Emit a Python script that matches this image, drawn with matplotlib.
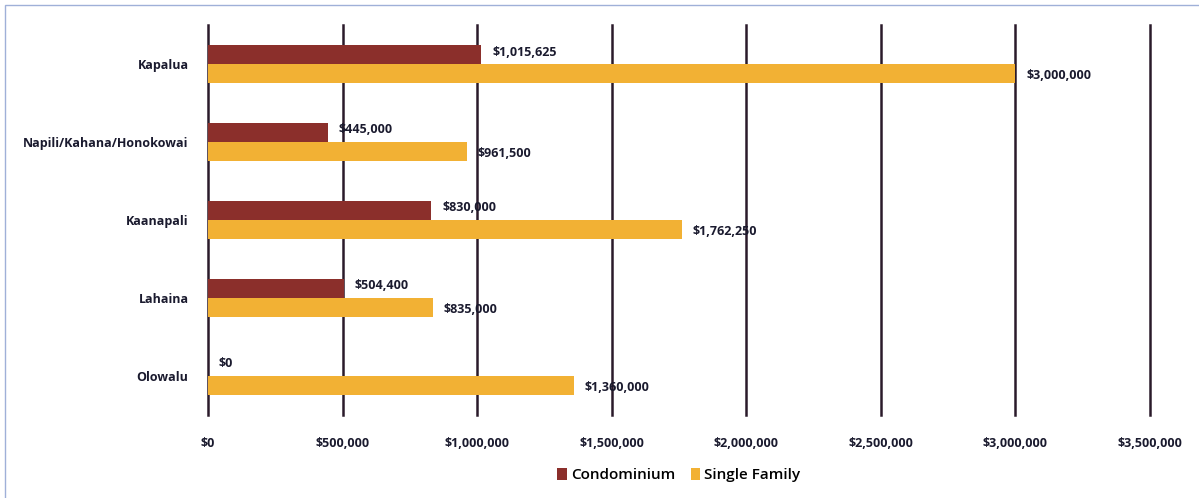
import matplotlib.pyplot as plt
import numpy as np
from matplotlib.patches import Rectangle

# datos del grafico
areas = ['Kapalua', 'Napili/Kahana/Honokowai', 'Kaanapali', 'Lahaina', 'Olowalu']
condominio = [1015625, 445000, 830000, 504400, 0]
casa_unifamiliar = [3000000, 961500, 1762250, 835000, 1360000]
ticks_x = [0, 500000, 1000000, 1500000, 2000000, 2500000, 3000000, 3500000]

color_condo = '#8B2F2B'
color_casa = '#F2B134'
color_texto = '#1a1a2e'

plt.rcParams['font.family'] = ['Open Sans', 'DejaVu Sans']

fig = plt.figure(figsize=(11.99, 4.98), dpi=100)
ax = fig.add_axes([0.1735, 0.167, 0.7855, 0.783])

y = np.arange(len(areas))
alto = 0.245

ax.barh(y - alto / 2, condominio, height=alto, color=color_condo, label='Condominium', zorder=3)
ax.barh(y + alto / 2, casa_unifamiliar, height=alto, color=color_casa, label='Single Family', zorder=3)

for i in range(len(areas)):
    ax.text(condominio[i] + 40000, y[i] - alto / 2 - 0.03, '${:,.0f}'.format(condominio[i]),
            va='center', ha='left', fontsize=9, fontweight='bold', color=color_texto, zorder=4)
    ax.text(casa_unifamiliar[i] + 40000, y[i] + alto / 2 + 0.03, '${:,.0f}'.format(casa_unifamiliar[i]),
            va='center', ha='left', fontsize=9, fontweight='bold', color=color_texto, zorder=4)

ax.set_xlim(0, 3500000)
ax.set_ylim(len(areas) - 0.5, -0.5)
ax.set_xticks(ticks_x)
ax.set_xticklabels(['${:,.0f}'.format(t) for t in ticks_x], fontsize=9, fontweight='bold', color=color_texto)
ax.set_yticks(y)
ax.set_yticklabels(areas, fontsize=9, fontweight='bold', color=color_texto)
ax.tick_params(axis='both', length=0)
ax.tick_params(axis='x', pad=16)
ax.tick_params(axis='y', pad=14)

ax.grid(axis='x', color='#2a1a2a', linewidth=1.8, zorder=1)
for linea in ax.get_xgridlines():
    linea.set_clip_on(False)
for lado in ax.spines.values():
    lado.set_visible(False)

ax.legend(loc='upper center', bbox_to_anchor=(0.5, -0.10), ncol=2, frameon=False,
          handlelength=0.6, handleheight=0.9, handletextpad=0.3, columnspacing=1.0,
          prop={'weight': 'semibold', 'size': 11})

# marco del grafico
fig.patches.append(Rectangle((0.004, -0.01), 1.2, 1.0, transform=fig.transFigure,
                             fill=False, edgecolor='#9fb0d8', linewidth=1))

fig.savefig('out.png', dpi=100)
plt.close()
